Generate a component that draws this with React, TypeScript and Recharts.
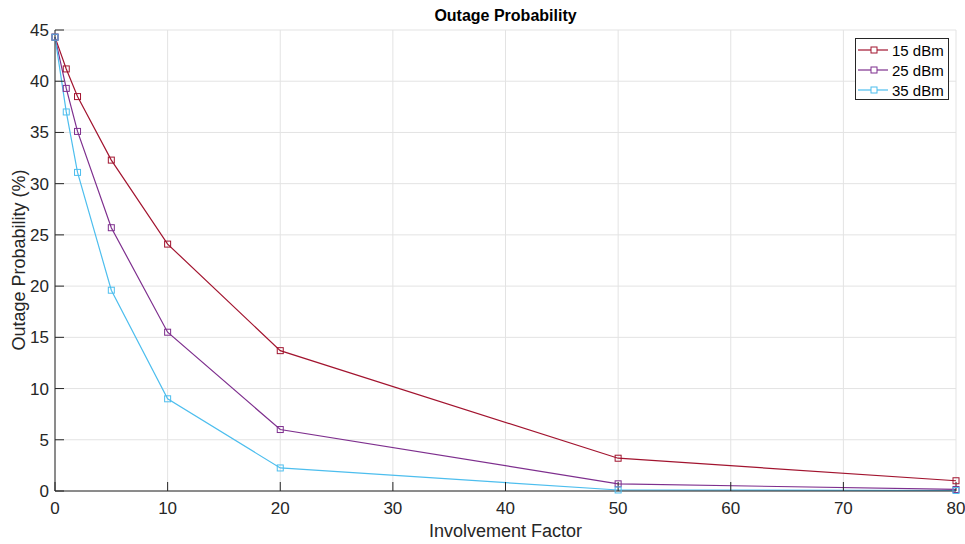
import React from 'react'
import { LineChart, Line, XAxis, YAxis, CartesianGrid, Legend } from 'recharts'

const FACTORS = [0, 1, 2, 5, 10, 20, 50, 80]
const P15 = [44.3, 41.2, 38.5, 32.3, 24.1, 13.7, 3.2, 1.0]
const P25 = [44.3, 39.3, 35.1, 25.7, 15.5, 6.0, 0.7, 0.15]
const P35 = [44.3, 37.0, 31.1, 19.6, 9.0, 2.25, 0.1, 0.05]
const X_TICKS = [0, 10, 20, 30, 40, 50, 60, 70, 80]
const Y_TICKS = [0, 5, 10, 15, 20, 25, 30, 35, 40, 45]

const SERIES = [
  { key: 'p15', name: '15 dBm', color: '#A2142F' },
  { key: 'p25', name: '25 dBm', color: '#7E2F8E' },
  { key: 'p35', name: '35 dBm', color: '#4DBEEE' },
]

const data = FACTORS.map((f, i) => ({ f, p15: P15[i], p25: P25[i], p35: P35[i] }))

const FONT = '"Liberation Sans", Arial, Helvetica, sans-serif'
const AXIS = '#262626'

// eslint-disable-next-line @typescript-eslint/no-explicit-any
const squareDot = (color: string) => (props: any) => {
  const { cx, cy, index } = props
  if (cx == null || cy == null) return <g key={index} />
  return <rect key={index} x={cx - 3} y={cy - 3} width={6} height={6} fill="none" stroke={color} strokeWidth={1} />
}

function LegendBox() {
  return (
    <div style={{ width: 94, height: 62, border: `1px solid ${AXIS}`, background: '#fff', boxSizing: 'border-box', fontFamily: FONT, fontSize: 15, color: '#000', paddingTop: 1, textAlign: 'left' }}>
      {SERIES.map(s => (
        <div key={s.key} style={{ display: 'flex', alignItems: 'center', height: 20 }}>
          <svg width={35} height={10} style={{ marginLeft: 1 }}>
            <line x1={1} y1={5} x2={31} y2={5} stroke={s.color} strokeWidth={1.2} />
            <rect x={14} y={2} width={6} height={6} fill="#fff" stroke={s.color} strokeWidth={1} />
          </svg>
          <span>{s.name}</span>
        </div>
      ))}
    </div>
  )
}

export default function App() {
  const tickStyle = { fontSize: 17, fill: AXIS, fontFamily: FONT }
  return (
    <div style={{ position: 'absolute', left: 0, top: 0, width: 965, height: 544, background: '#fff' }}>
      <div style={{ position: 'absolute', left: 55, width: 901, top: 7, textAlign: 'center', fontFamily: FONT, fontWeight: 'bold', fontSize: 16, color: '#000' }}>
        Outage Probability
      </div>
      <div style={{ position: 'absolute', left: 55, width: 901, top: 521, textAlign: 'center', fontFamily: FONT, fontSize: 18, color: AXIS }}>
        Involvement Factor
      </div>
      <div style={{ position: 'absolute', left: 19, top: 260, width: 0, height: 0 }}>
        <div style={{ position: 'absolute', transform: 'translate(-50%, -50%) rotate(-90deg)', whiteSpace: 'nowrap', fontFamily: FONT, fontSize: 18, color: AXIS }}>
          Outage Probability (%)
        </div>
      </div>
      <LineChart width={965} height={544} data={data} margin={{ top: 30, right: 9, left: 0, bottom: 0 }}>
        <CartesianGrid stroke="#e3e3e3" strokeWidth={1} horizontalValues={Y_TICKS} verticalValues={X_TICKS} />
        <XAxis dataKey="f" type="number" domain={[0, 80]} ticks={X_TICKS} height={53}
          tick={tickStyle} stroke={AXIS} tickSize={-9} tickMargin={20} interval={0} />
        <XAxis xAxisId="top" orientation="top" dataKey="f" type="number" domain={[0, 80]} ticks={X_TICKS} height={0}
          tick={false} stroke={AXIS} tickSize={-9} />
        <YAxis type="number" domain={[0, 45]} ticks={Y_TICKS} width={55}
          tick={tickStyle} stroke={AXIS} tickSize={-9} tickMargin={15} interval={0} />
        <YAxis yAxisId="right" orientation="right" type="number" domain={[0, 45]} ticks={Y_TICKS} width={0}
          tick={false} stroke={AXIS} tickSize={-9} />
        <Legend content={<LegendBox />} layout="horizontal" verticalAlign="middle" align="center"
          wrapperStyle={{ position: 'absolute', left: 855, top: 38, width: 94 }} />
        {SERIES.map(s => (
          <Line key={s.key} type="linear" dataKey={s.key} name={s.name} stroke={s.color} strokeWidth={1.2}
            dot={squareDot(s.color)} activeDot={false} isAnimationActive={false} />
        ))}
      </LineChart>
    </div>
  )
}
